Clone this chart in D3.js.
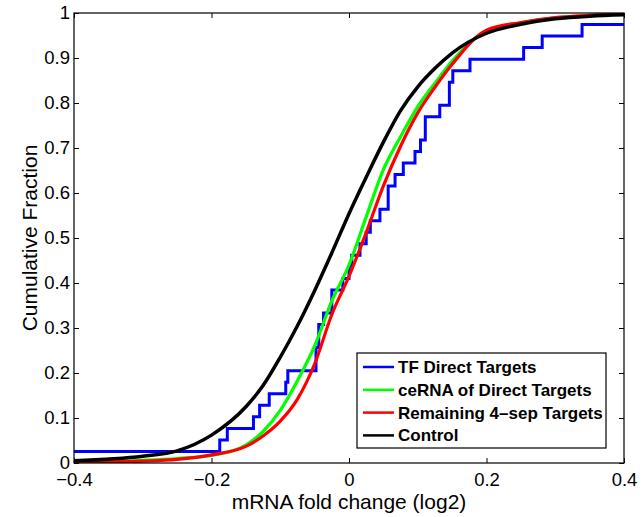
<!DOCTYPE html>
<html>
<head>
<meta charset="utf-8">
<script src="https://cdn.jsdelivr.net/npm/d3@7"></script>
<style>
  body { margin: 0; background: #fff; }
  text { font-family: 'Liberation Sans', Arial, Helvetica, sans-serif; }
</style>
</head>
<body>
<div id="cdf-chart"></div>
<script>
// fold change values of the 39 TF direct targets (empirical CDF drawn as steps)
let tfSamples = [-0.45, -0.188, -0.177, -0.139, -0.13, -0.116, -0.092, -0.089,
  -0.048, -0.048, -0.044, -0.044, -0.037, -0.025, -0.025, -0.009, 0.0, 0.004,
  0.016, 0.025, 0.031, 0.045, 0.057, 0.057, 0.067, 0.079, 0.096, 0.104, 0.111,
  0.111, 0.132, 0.146, 0.146, 0.151, 0.176, 0.254, 0.281, 0.339, 0.5]

// smooth cumulative curves, read at these fold changes
let gridX = [-0.4, -0.3, -0.25, -0.2, -0.15, -0.125, -0.1, -0.075, -0.05, -0.025,
  0, 0.025, 0.05, 0.075, 0.1, 0.125, 0.15, 0.2, 0.25, 0.3, 0.35, 0.4]
let cernaY = [0.002, 0.006, 0.01, 0.017, 0.04, 0.07, 0.117, 0.183, 0.26, 0.36,
  0.44, 0.547, 0.652, 0.725, 0.792, 0.844, 0.893, 0.96, 0.978, 0.989, 0.995, 0.999]
let remainingY = [0.001, 0.004, 0.008, 0.018, 0.037, 0.06, 0.093, 0.142, 0.22, 0.33,
  0.415, 0.512, 0.616, 0.704, 0.778, 0.835, 0.886, 0.962, 0.979, 0.99, 0.995, 0.999]
let controlY = [0.005, 0.015, 0.027, 0.062, 0.125, 0.172, 0.235, 0.305, 0.383, 0.467,
  0.554, 0.635, 0.713, 0.783, 0.836, 0.877, 0.911, 0.955, 0.975, 0.987, 0.993, 0.996]

let seriesNames = ['TF Direct Targets', 'ceRNA of Direct Targets', 'Remaining 4\u2013sep Targets', 'Control']
let seriesColors = ['#0000ff', '#00ff00', '#ff0000', '#000000']

let xTicks = [-0.4, -0.2, 0, 0.2, 0.4]
let yTicks = [0, 0.1, 0.2, 0.3, 0.4, 0.5, 0.6, 0.7, 0.8, 0.9, 1]

let margin = { top: 13, left: 74, right: 19, bottom: 54 }
let height = 517 - margin.top - margin.bottom
let width = 643 - margin.left - margin.right

let svg = d3
  .select('#cdf-chart')
  .append('svg')
  .attr('height', height + margin.top + margin.bottom)
  .attr('width', width + margin.left + margin.right)
  .append('g')
  .attr('transform', 'translate(' + margin.left + ',' + margin.top + ')')

let xScale = d3.scaleLinear().domain([-0.4, 0.4]).range([0, width])
let yScale = d3.scaleLinear().domain([0, 1]).range([height, 0])

let fmt = d => (d === 0 || d === 1) ? String(d) : d3.format('.1f')(d).replace('-', '\u2212')

svg.append('clipPath').attr('id', 'plot-clip')
  .append('rect').attr('width', width).attr('height', height)

// empirical CDF points for the step line
let n = tfSamples.length
let sorted = tfSamples.slice().sort(d3.ascending)
let tfPoints = [[-0.4, sorted.filter(v => v < -0.4).length / n]]
sorted.forEach((v, i) => {
  if (v >= -0.4 && v <= 0.4) tfPoints.push([v, (i + 1) / n])
})
tfPoints.push([0.4, tfPoints[tfPoints.length - 1][1]])

let smoothLine = d3.line()
  .x(d => xScale(d[0]))
  .y(d => yScale(d[1]))
  .curve(d3.curveMonotoneX)

let stepLine = d3.line()
  .x(d => xScale(d[0]))
  .y(d => yScale(d[1]))
  .curve(d3.curveStepAfter)

let curves = [cernaY, remainingY, controlY].map(ys => gridX.map((x, i) => [x, ys[i]]))

let lines = svg.append('g').attr('clip-path', 'url(#plot-clip)')

lines.append('path')
  .datum(tfPoints)
  .attr('d', stepLine)
  .attr('fill', 'none')
  .attr('stroke', seriesColors[0])
  .attr('stroke-width', 3)

lines.selectAll('.cdf-curve')
  .data(curves)
  .enter()
  .append('path')
  .attr('class', 'cdf-curve')
  .attr('d', smoothLine)
  .attr('fill', 'none')
  .attr('stroke', (d, i) => seriesColors[i + 1])
  .attr('stroke-width', (d, i) => i === 2 ? 3.5 : 3.2)

// axes, MATLAB style: ticks inward on all four sides
let tickLen = 5
svg.append('g')
  .attr('transform', `translate(0,${height})`)
  .call(d3.axisBottom(xScale).tickValues(xTicks).tickSizeInner(-tickLen).tickSizeOuter(0).tickPadding(10).tickFormat(fmt))
svg.append('g')
  .call(d3.axisTop(xScale).tickValues(xTicks).tickSizeInner(-tickLen).tickSizeOuter(0).tickFormat(''))
svg.append('g')
  .call(d3.axisLeft(yScale).tickValues(yTicks).tickSizeInner(-tickLen).tickSizeOuter(0).tickPadding(4).tickFormat(fmt))
svg.append('g')
  .attr('transform', `translate(${width},0)`)
  .call(d3.axisRight(yScale).tickValues(yTicks).tickSizeInner(-tickLen).tickSizeOuter(0).tickFormat(''))

svg.selectAll('.domain').remove()
svg.selectAll('.tick line').attr('stroke', '#000')
svg.selectAll('.tick text')
  .attr('font-size', 18.5)
  .attr('font-family', "'Liberation Sans', Arial, sans-serif")
  .attr('fill', '#000')

svg.append('rect')
  .attr('width', width)
  .attr('height', height)
  .attr('fill', 'none')
  .attr('stroke', '#000')
  .attr('stroke-width', 1.2)

svg.append('text')
  .attr('x', width / 2)
  .attr('y', height + 46)
  .attr('text-anchor', 'middle')
  .attr('font-size', 21)
  .text('mRNA fold change (log2)')

svg.append('text')
  .attr('transform', `translate(-37,${height / 2}) rotate(-90)`)
  .attr('text-anchor', 'middle')
  .attr('font-size', 21)
  .text('Cumulative Fraction')

// legend
let legend = svg.append('g')
  .attr('transform', `translate(${283},${340})`)

legend.append('rect')
  .attr('width', 249)
  .attr('height', 95)
  .attr('fill', '#fff')
  .attr('stroke', '#000')
  .attr('stroke-width', 1.2)

legend.selectAll('.legend-item')
  .data(seriesNames)
  .enter()
  .append('g')
  .attr('class', 'legend-item')
  .attr('transform', (d, i) => `translate(0,${14 + i * 22.8})`)
  .each(function(d, i) {
    let group = d3.select(this)
    group.append('line')
      .attr('x1', 6).attr('x2', 37)
      .attr('stroke', seriesColors[i])
      .attr('stroke-width', 2.5)
    group.append('text')
      .text(d)
      .attr('x', 41)
      .attr('dy', '0.35em')
      .attr('font-size', 17)
      .attr('font-weight', 'bold')
  })
</script>
</body>
</html>
